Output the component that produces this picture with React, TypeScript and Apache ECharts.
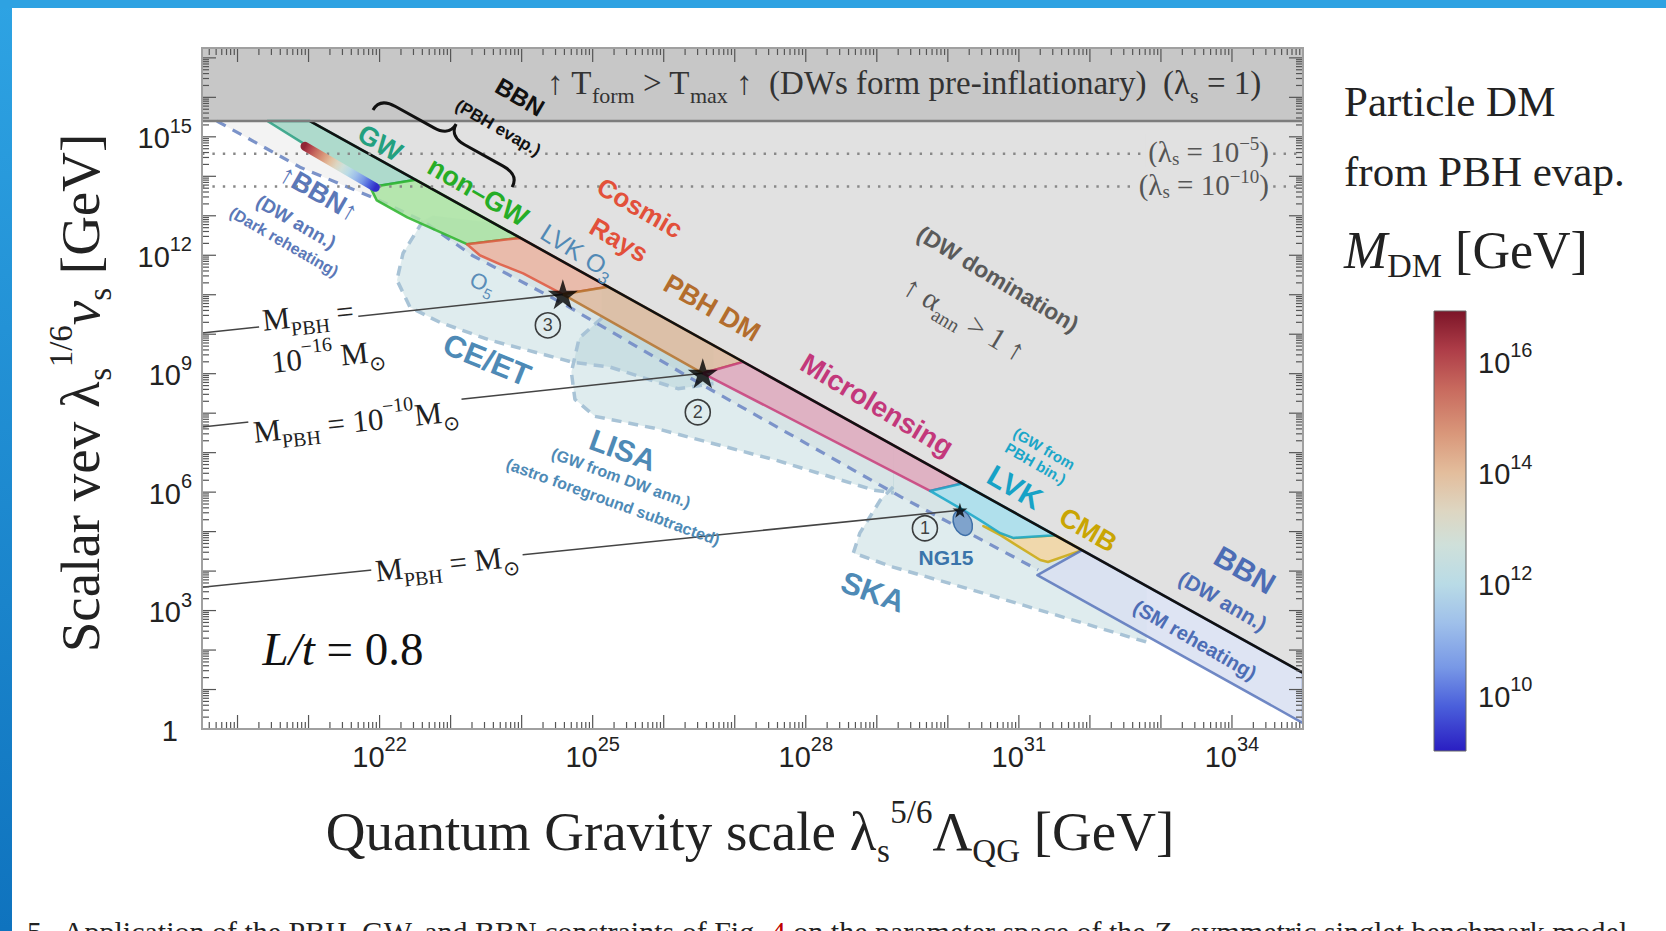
import React, { useEffect, useRef } from "react";
import * as echarts from "echarts";

// ---------------- axes (log10 of GeV) ----------------
const X_RANGE = [19.5, 35];
const Y_RANGE = [0, 17.25];
const X_LABEL_DECADES = [22, 25, 28, 31, 34];
const Y_LABEL_DECADES = [0, 3, 6, 9, 12, 15];
const X_TICK_DECADES = [19, 20, 21, 22, 23, 24, 25, 26, 27, 28, 29, 30, 31, 32, 33, 34, 35];
const Y_TICK_DECADES = [0, 1, 2, 3, 4, 5, 6, 7, 8, 9, 10, 11, 12, 13, 14, 15, 16, 17];
const MINOR_MULTIPLIERS = [2, 3, 4, 5, 6, 7, 8, 9];

// ---------------- boundaries (log10 coordinates) ----------------
const TFORM_BOUNDARY = 15.4; // T_form > T_max (lambda_s = 1)
const LAMBDA_LINES = [14.57, 13.74]; // lambda_s = 1e-5, 1e-10
const DW_LINE = [[21.02, 15.4], [35, 1.42]]; // DW domination boundary
const BBN_DARK_LINE = [
  [19.71, 15.4], [20.88, 14.23], [21.96, 13.42], [22.62, 12.86], [23.3, 12.0],
  [24.58, 10.78], [26.55, 8.71], [29.34, 5.88], [31.27, 4.03],
];
const EXCLUSION_CLOSURE = [[32.39, 4.03], [21.02, 15.4]];

// GW sensitivity regions: dashed outline + closure along the DW line
const CE_ET_OUTLINE = [
  [22.61, 12.87], [22.33, 12.05], [22.245, 11.37], [22.43, 10.68], [22.85, 10.3],
  [23.555, 9.85], [24.72, 9.29], [25.24, 9.17], [26.2, 8.62], [26.7, 8.75],
];
const CE_ET_CLOSURE = [[26.7, 9.72], [23.6, 12.82], [22.75, 13.0]];
const LISA_OUTLINE = [
  [25.13, 10.41], [24.81, 9.9], [24.7, 9.04], [24.75, 8.35], [25.03, 7.92],
  [25.92, 7.6], [27.58, 6.81], [28.96, 6.05], [29.24, 5.98],
];
const LISA_CLOSURE = [[29.24, 7.18], [25.13, 11.29]];
const SKA_OUTLINE = [
  [29.23, 6.13], [29.05, 5.8], [28.76, 4.96], [28.67, 4.46], [29.23, 4.1],
  [30.35, 3.52], [32.8, 2.2],
];
const SKA_CLOSURE = [[32.8, 3.62], [29.23, 7.19]];

// constraint strips below the DW line
const GW_STRIP = [[20.42, 15.4], [21.02, 15.4], [22.51, 13.91], [21.87, 13.72], [20.92, 14.84]];
const NON_GW_STRIP = [[21.87, 13.72], [22.51, 13.91], [23.98, 12.44], [23.23, 12.28], [22.39, 12.96], [21.96, 13.39]];
const COSMIC_RAY_STRIP = [[23.23, 12.28], [23.98, 12.44], [25.22, 11.2], [24.58, 11.01], [24.02, 11.54], [23.7, 11.77], [23.41, 12.0]];
const PBH_DM_STRIP = [[24.58, 11.01], [25.22, 11.2], [27.12, 9.3], [26.55, 9.01]];
const MICROLENSING_STRIP = [[26.55, 9.01], [27.12, 9.3], [30.2, 6.22], [29.75, 6.03]];
const LVK_STRIP = [[29.75, 6.03], [30.2, 6.22], [31.51, 4.91], [30.92, 4.84], [30.74, 4.96], [30.45, 5.29], [30.27, 5.49]];
const CMB_STRIP = [[30.5, 5.14], [30.74, 4.91], [31.3, 4.28], [31.41, 4.23], [31.89, 4.53], [31.51, 4.91], [30.92, 4.84]];
const BBN_SM_STRIP = [[31.26, 3.9], [31.89, 4.53], [35, 1.42], [35, 0.15]];

// benchmark points and PBH mass lines
const STARS = [[24.58, 11.01], [26.55, 9.01], [30.17, 5.54]];
const STAR_NAMES = ["3", "2", "1"];
const MPBH_LINE_STARTS = [[19.5, 10.03], [19.5, 7.65], [19.5, 3.59]];
const NG15_CENTER = [30.21, 5.22];

// particle DM from PBH evaporation
const DM_LINE = [[20.95, 14.76], [21.94, 13.72]];
const DM_LINE_MASS = [16.6, 9.2];

// colour bar (log10 M_DM / GeV)
const CBAR_RANGE = [9, 16.9];
const CBAR_LABELS = [10, 12, 14, 16];
const CBAR_TICKS = [9.5, 10, 10.5, 11, 11.5, 12, 12.5, 13, 13.5, 14, 14.5, 15, 15.5, 16, 16.5];
const CMAP_VALUES = [9.0, 9.8, 10.5, 11.3, 12.0, 12.7, 13.3, 14.0, 14.7, 15.5, 16.2, 16.9];
const CMAP_COLORS = ["#2a1ec2", "#4a5fdb", "#7898e6", "#9fc0ea", "#b9dbe6", "#cfe0da", "#ddd6c2", "#e3bd9c", "#d9977a", "#c86a5e", "#ae3d48", "#7c1528"];

// ---------------- styling ----------------
const SANS = "'Liberation Sans', Arial, Helvetica, sans-serif";
const SERIF = "'Liberation Serif', 'Times New Roman', serif";
const STAR_PATH = "path://M50,0 L61.2,34.5 L97.6,34.5 L68.2,55.9 L79.4,90.5 L50,69.1 L20.6,90.5 L31.8,55.9 L2.4,34.5 L38.8,34.5 Z";
const BRACE_PATH = "M0,0 C0,-9 6,-14 18,-14 L62,-14 C72,-14 79.5,-18 79.5,-28 C79.5,-18 87,-14 97,-14 L141,-14 C153,-14 159,-9 159,0";

try {
  echarts.graphic.registerShape("brace", echarts.graphic.extendPath(BRACE_PATH, {}));
} catch (e) {}

function hexToRgb(h: string) {
  const n = parseInt(h.slice(1), 16);
  return [(n >> 16) & 255, (n >> 8) & 255, n & 255];
}
function cmapColor(v: number) {
  if (v <= CMAP_VALUES[0]) return CMAP_COLORS[0];
  for (let i = 0; i < CMAP_VALUES.length - 1; i++) {
    const a = CMAP_VALUES[i], b = CMAP_VALUES[i + 1];
    if (v <= b) {
      const t = (v - a) / (b - a);
      const c0 = hexToRgb(CMAP_COLORS[i]), c1 = hexToRgb(CMAP_COLORS[i + 1]);
      const c = c0.map((x, k) => Math.round(x + (c1[k] - x) * t));
      return `rgb(${c[0]},${c[1]},${c[2]})`;
    }
  }
  return CMAP_COLORS[CMAP_COLORS.length - 1];
}

function rich(size: number, family: string, color: string, weight = "normal", padF = [0.22, 0.2], smallF = 0.66) {
  const padT = Math.round(size * padF[0]), padB = Math.round(size * padF[1]);
  const small = Math.round(size * smallF);
  const base = { fontSize: size, fontFamily: family, fontWeight: weight, fill: color, color, padding: [padT, 0, padB, 0] };
  const sub = { fontSize: small, fontFamily: family, fontWeight: weight, fill: color, color, verticalAlign: "bottom" };
  const sup = { fontSize: small, fontFamily: family, fontWeight: weight, fill: color, color, verticalAlign: "top" };
  return {
    n: base,
    i: { ...base, fontStyle: "italic" },
    r: { ...base, fill: "#c00000", color: "#c00000" },
    sup,
    sub,
    sb: { ...sub, width: Math.round(small * 0.42) },
  };
}

const deg = (d: number) => (-d * Math.PI) / 180;

function txt(text: string, x: number, y: number, size: number, color: string, rot = 0, o: any = {}) {
  const family = o.family || SANS;
  const weight = o.weight || "bold";
  const style: any = {
    text,
    x: 0,
    y: 0,
    fill: color,
    fontSize: size,
    fontFamily: family,
    fontWeight: weight,
    fontStyle: o.italic ? "italic" : "normal",
    align: o.align || "center",
    verticalAlign: o.valign || "middle",
  };
  if (o.rich) style.rich = rich(size, family, color, weight, o.padF, o.smallF);
  if (o.bg) {
    style.backgroundColor = o.bg;
    style.padding = o.pad || [0, 4];
  }
  if (o.lineHeight) style.lineHeight = o.lineHeight;
  return { type: "text", x, y, rotation: deg(rot), z: 100, silent: true, style };
}

function polySeries(id: string, poly: number[][], style: any, z: number) {
  return {
    type: "custom",
    id,
    coordinateSystem: "cartesian2d",
    xAxisIndex: 0,
    yAxisIndex: 0,
    z,
    silent: true,
    clip: true,
    data: [poly[0]],
    renderItem: (_p: any, api: any) => ({
      type: "polygon",
      shape: { points: poly.map((p) => api.coord(p)) },
      style: { ...style },
    }),
  };
}

function lineSeries(id: string, data: number[][], lineStyle: any, z: number) {
  return {
    type: "line",
    id,
    data,
    z,
    xAxisIndex: 0,
    yAxisIndex: 0,
    symbol: "none",
    silent: true,
    clip: true,
    lineStyle,
  };
}

function buildOption() {
  const GW_FILL = { fill: "rgba(160,200,206,0.34)" };
  const GW_DASH = { color: "#a8c3d6", width: 3.5, type: [10, 7] };
  const strip = (fill: string, stroke: string) => ({ fill, stroke, lineWidth: 2.5, opacity: 0.86, lineJoin: "round" });

  const band = [[X_RANGE[0], TFORM_BOUNDARY], [X_RANGE[1], TFORM_BOUNDARY], [X_RANGE[1], Y_RANGE[1]], [X_RANGE[0], Y_RANGE[1]]];
  const dwRegion = [DW_LINE[0], [X_RANGE[1], TFORM_BOUNDARY], DW_LINE[1]];

  // DM gradient stops
  const [m0, m1] = DM_LINE_MASS;
  const dmStops: any[] = [{ offset: 0, color: cmapColor(m0) }];
  CMAP_VALUES.forEach((v) => {
    if (v < m0 && v > m1) dmStops.push({ offset: (m0 - v) / (m0 - m1), color: cmapColor(v) });
  });
  dmStops.push({ offset: 1, color: cmapColor(m1) });
  dmStops.sort((a, b) => a.offset - b.offset);

  const cbarStops = CMAP_VALUES.map((v, i) => ({
    offset: (v - CBAR_RANGE[0]) / (CBAR_RANGE[1] - CBAR_RANGE[0]),
    color: CMAP_COLORS[i],
  }));

  const axisRich = {
    b: { fontSize: 29, fontFamily: SANS, color: "#222", padding: [8, 0, 5, 0] },
    one: { fontSize: 29, fontFamily: SANS, color: "#222", padding: [8, 14, 5, 0] },
    s: { fontSize: 20, fontFamily: SANS, color: "#222", verticalAlign: "top" },
  };

  const circleOffsets = [[-15, 31], [-5, 39], [-35, 18]];

  const series: any[] = [
    polySeries("band", band, { fill: "#c7c7c7" }, 1),
    polySeries("dwRegion", dwRegion, { fill: "#e1e1e1" }, 1),
    polySeries("bbnExcl", [...BBN_DARK_LINE, ...EXCLUSION_CLOSURE], { fill: "#f3f3f3" }, 1),
    polySeries("ceet", [...CE_ET_OUTLINE, ...CE_ET_CLOSURE], GW_FILL, 2),
    polySeries("lisa", [...LISA_OUTLINE, ...LISA_CLOSURE], GW_FILL, 2),
    polySeries("ska", [...SKA_OUTLINE, ...SKA_CLOSURE], GW_FILL, 2),
    lineSeries("ceetLine", CE_ET_OUTLINE, GW_DASH, 3),
    lineSeries("lisaLine", LISA_OUTLINE, GW_DASH, 3),
    lineSeries("skaLine", SKA_OUTLINE, GW_DASH, 3),
    lineSeries("bbnDark", BBN_DARK_LINE, { color: "#7b93c9", width: 3.2, type: [10, 8] }, 4),
    polySeries("gw", GW_STRIP, strip("#a2d5c5", "#2c9f82"), 5),
    polySeries("nongw", NON_GW_STRIP, strip("#aae3a2", "#2db52d"), 5),
    polySeries("cr", COSMIC_RAY_STRIP, strip("#ebb4a1", "#e05840"), 5),
    polySeries("pbhdm", PBH_DM_STRIP, strip("#e0bc9f", "#b6732e"), 5),
    polySeries("micro", MICROLENSING_STRIP, strip("#dfaabd", "#c83f7c"), 5),
    polySeries("cmb", CMB_STRIP, strip("#f3d6a2", "#cba90f"), 5),
    polySeries("lvk", LVK_STRIP, strip("#a9e0ec", "#17a7c8"), 5),
    polySeries("bbnsm", BBN_SM_STRIP, strip("#d9e0f1", "#5a76bc"), 5),
    lineSeries("dw", DW_LINE, { color: "#111", width: 2.6 }, 6),
    lineSeries("bandEdge", [[X_RANGE[0], TFORM_BOUNDARY], [X_RANGE[1], TFORM_BOUNDARY]], { color: "#7d7d7d", width: 2.5 }, 7),
    ...LAMBDA_LINES.map((y, i) =>
      lineSeries("lam" + i, [[X_RANGE[0], y], [X_RANGE[1], y]], { color: "#888", width: 2.4, type: [2.4, 8] }, 7)
    ),
    ...MPBH_LINE_STARTS.map((p, i) => lineSeries("mpbh" + i, [p, STARS[i]], { color: "#444", width: 1.6 }, 8)),
    {
      type: "custom",
      id: "ng15",
      coordinateSystem: "cartesian2d",
      z: 9,
      silent: true,
      data: [NG15_CENTER],
      renderItem: (_p: any, api: any) => {
        const c = api.coord(NG15_CENTER);
        return {
          type: "ellipse",
          x: c[0],
          y: c[1],
          rotation: 0.4,
          shape: { cx: 0, cy: 0, rx: 9, ry: 13 },
          style: { fill: "#7fa3cc", stroke: "#3f70a8", lineWidth: 1.5 },
        };
      },
    },
    {
      type: "custom",
      id: "dmline",
      coordinateSystem: "cartesian2d",
      z: 9,
      silent: true,
      data: [DM_LINE[0]],
      renderItem: (_p: any, api: any) => {
        const a = api.coord(DM_LINE[0]);
        const b = api.coord(DM_LINE[1]);
        return {
          type: "line",
          shape: { x1: a[0], y1: a[1], x2: b[0], y2: b[1] },
          style: {
            stroke: new echarts.graphic.LinearGradient(a[0], a[1], b[0], b[1], dmStops, true),
            lineWidth: 9,
            lineCap: "round",
          },
        };
      },
    },
    {
      type: "scatter",
      id: "stars",
      z: 12,
      silent: true,
      symbol: STAR_PATH,
      data: STARS.map((p, i) => ({ value: p, symbolSize: i < 2 ? 30 : 15 })),
      itemStyle: { color: "#000" },
    },
    {
      type: "scatter",
      id: "circles",
      z: 12,
      silent: true,
      symbol: "circle",
      symbolSize: 25,
      data: STARS.map((p, i) => ({ value: p, name: STAR_NAMES[i], symbolOffset: circleOffsets[i] })),
      itemStyle: { color: "rgba(255,255,255,0)", borderColor: "#111", borderWidth: 1.6 },
      label: { show: true, position: "inside", formatter: "{b}", fontSize: 18, color: "#111", fontFamily: SANS },
    },
    {
      type: "custom",
      id: "ticks",
      coordinateSystem: "cartesian2d",
      z: 20,
      silent: true,
      clip: false,
      data: [[X_RANGE[0], Y_RANGE[0]]],
      renderItem: (_p: any, api: any) => {
        const lb = api.coord([X_RANGE[0], Y_RANGE[0]]);
        const rt = api.coord([X_RANGE[1], Y_RANGE[1]]);
        const left = lb[0], bottom = lb[1], right = rt[0], top = rt[1];
        const ch: any[] = [];
        const st = { stroke: "#555", lineWidth: 1.2 };
        const ms = [1, ...MINOR_MULTIPLIERS];
        X_TICK_DECADES.forEach((d) =>
          ms.forEach((m) => {
            const v = d + Math.log10(m);
            if (v < X_RANGE[0] - 1e-9 || v > X_RANGE[1] + 1e-9) return;
            const px = api.coord([v, Y_RANGE[0]])[0];
            const len = m === 1 ? 14 : 7;
            ch.push({ type: "line", shape: { x1: px, y1: bottom, x2: px, y2: bottom - len }, style: st });
            ch.push({ type: "line", shape: { x1: px, y1: top, x2: px, y2: top + len }, style: st });
          })
        );
        Y_TICK_DECADES.forEach((d) =>
          ms.forEach((m) => {
            const v = d + Math.log10(m);
            if (v < Y_RANGE[0] - 1e-9 || v > Y_RANGE[1] + 1e-9) return;
            const py = api.coord([X_RANGE[0], v])[1];
            const len = m === 1 ? 14 : 7;
            ch.push({ type: "line", shape: { x1: left, y1: py, x2: left + len, y2: py }, style: st });
            ch.push({ type: "line", shape: { x1: right, y1: py, x2: right - len, y2: py }, style: st });
          })
        );
        ch.push({
          type: "rect",
          shape: { x: left, y: top, width: right - left, height: bottom - top },
          style: { fill: "none", stroke: "#a0a0a0", lineWidth: 2 },
        });
        return { type: "group", children: ch };
      },
    },
    {
      type: "custom",
      id: "cbar",
      coordinateSystem: "cartesian2d",
      xAxisIndex: 1,
      yAxisIndex: 1,
      silent: true,
      data: [[0, CBAR_RANGE[0]]],
      renderItem: (_p: any, api: any) => {
        const a = api.coord([0, CBAR_RANGE[0]]);
        const b = api.coord([1, CBAR_RANGE[1]]);
        return {
          type: "rect",
          shape: { x: a[0], y: b[1], width: b[0] - a[0], height: a[1] - b[1] },
          style: {
            fill: new echarts.graphic.LinearGradient(0, 1, 0, 0, cbarStops),
            stroke: "#666",
            lineWidth: 1,
          },
        };
      },
    },
  ];

  const serifBlack = "#222";
  const SER = { family: SERIF, weight: "normal", rich: true };
  const graphics: any[] = [
    // slide frame
    {
      type: "rect",
      z: 0,
      shape: { x: 0, y: 0, width: 12, height: 931 },
      style: { fill: new echarts.graphic.LinearGradient(0, 0, 0, 1, [{ offset: 0, color: "#2ea3e3" }, { offset: 1, color: "#0f73be" }]) },
    },
    { type: "rect", z: 0, shape: { x: 0, y: 0, width: 1666, height: 8 }, style: { fill: "#2ea2e2" } },

    // band text and dotted-line labels
    txt("{n|↑ T}{sub|form}{n| > T}{sub|max}{n| ↑  (DWs form pre-inflationary)  (λ}{sub|s}{n| = 1)}", 547, 83, 33, "#333", 0, { ...SER, align: "left" }),
    txt("{n|(λ}{sub|s}{n| = 10}{sup|−5}{n|)}", 1272, 151, 29, "#555", 0, { ...SER, align: "right", bg: "#e1e1e1", pad: [0, 3], padF: [0.1, 0.06] }),
    txt("{n|(λ}{sub|s}{n| = 10}{sup|−10}{n|)}", 1272, 184, 29, "#555", 0, { ...SER, align: "right", bg: "#e1e1e1", pad: [0, 3], padF: [0.1, 0.06] }),

    // BBN (PBH evap.) with brace
    txt("BBN", 520, 97, 24, "#111", 30),
    txt("(PBH evap.)", 498, 128, 17, "#111", 30),
    { type: "brace", x: 373, y: 110, rotation: deg(29), z: 100, silent: true, style: { fill: "none", stroke: "#111", lineWidth: 3 } },

    // strip labels
    txt("GW", 380, 143, 27, "#23a07f", 30),
    txt("non–GW", 478, 192, 27, "#26ad26", 30),
    txt("Cosmic", 640, 208, 26, "#e2503a", 30),
    txt("Rays", 619, 240, 26, "#e2503a", 30),
    txt("{n|LVK O}{sub|3}", 578, 251, 25, "#5189b5", 32, { rich: true, weight: "normal" }),
    txt("PBH DM", 712, 308, 27, "#b36d2d", 30),
    txt("Microlensing", 877, 405, 28, "#c3387b", 31),
    txt("(GW from\nPBH bin.)", 1040, 456, 15, "#1ba6c8", 30, { lineHeight: 17 }),
    txt("LVK", 1015, 487, 30, "#17a2c6", 30),
    txt("CMB", 1088, 530, 27, "#c9a503", 30),
    txt("BBN", 1245, 570, 30, "#4d6db5", 30),
    txt("(DW ann.)", 1223, 601, 21, "#4d6db5", 30),
    txt("(SM reheating)", 1195, 640, 20, "#4d6db5", 30),
    txt("(DW domination)", 998, 279, 23, "#5a5a5a", 31),
    txt("{n|↑ α}{sub|ann}{n| > 1 ↑}", 965, 318, 30, "#555", 31, SER),
    txt("↑BBN↑", 319, 193, 27, "#5b78b8", 30),
    txt("(DW ann.)", 296, 222, 19, "#5b78b8", 30),
    txt("(Dark reheating)", 284, 242, 16, "#5b78b8", 30),

    // GW detector labels
    txt("{n|O}{sub|5}", 483, 283, 22, "#5b8db8", 25, { rich: true, weight: "normal" }),
    txt("CE/ET", 487, 360, 31, "#4e8ab6", 22),
    txt("LISA", 623, 450, 30, "#4e8ab6", 20),
    txt("(GW from DW ann.)", 621, 478, 16, "#4e8ab6", 20),
    txt("(astro foreground subtracted)", 613, 502, 16, "#4e8ab6", 20),
    txt("SKA", 873, 592, 31, "#4e8ab6", 20),
    txt("NG15", 946, 557, 21, "#3b74aa", 0),

    // PBH mass labels
    txt("{n|M}{sub|PBH}{n| =}", 308, 315, 31, serifBlack, -6, { ...SER, bg: "#fff" }),
    txt("{n|10}{sup|−16}{n| M}{sub|⊙}", 328, 356, 31, serifBlack, -6, SER),
    txt("{n|M}{sub|PBH}{n| = 10}{sup|−10}{n|M}{sub|⊙}", 356, 421, 31, serifBlack, -6, { ...SER, bg: "#fff" }),
    txt("{n|M}{sub|PBH}{n| = M}{sub|⊙}", 447, 563, 31, serifBlack, -6, { ...SER, bg: "#fff" }),
    txt("{i|L/t}{n| = 0.8}", 343, 648, 47, "#111", 0, SER),

    // axis titles
    txt("{n|Quantum Gravity scale λ}{sb|s}{sup|5/6}{n|Λ}{sub|QG}{n| [GeV]}", 750, 831, 55, "#222", 0, { ...SER, padF: [0.16, 0.14], smallF: 0.6 }),
    txt("{n|Scalar vev λ}{sb|s}{sup|1/6}{i|v}{sub|s}{n| [GeV]}", 80, 393, 55, "#222", -90, { ...SER, padF: [0.16, 0.14], smallF: 0.6 }),

    // colour bar title
    txt("Particle DM", 1344, 101, 43, "#222", 0, { family: SERIF, weight: "normal", align: "left" }),
    txt("from PBH evap.", 1344, 171, 43, "#222", 0, { family: SERIF, weight: "normal", align: "left" }),
    txt("{i|M}{sub|DM}{n| [GeV]}", 1344, 250, 52, "#222", 0, { ...SER, align: "left", padF: [0.12, 0.12] }),

    // caption (cut by the page edge)
    txt("{n|5.  Application of the PBH, GW, and BBN constraints of Fig. }{r|4}{n| on the parameter space of the }{i|Z}{sub|2}{n|-symmetric singlet benchmark model}", 27, 909, 30, "#222", 0, { ...SER, align: "left", valign: "top" }),
  ];

  return {
    animation: false,
    backgroundColor: "#fff",
    grid: [
      { left: 202, top: 48, width: 1101, height: 681, show: false },
      { left: 1434, top: 311, width: 32, height: 440, show: false },
    ],
    xAxis: [
      {
        type: "value",
        gridIndex: 0,
        min: X_RANGE[0],
        max: X_RANGE[1],
        axisLine: { show: false },
        axisTick: { show: false },
        splitLine: { show: false },
        axisLabel: {
          customValues: X_LABEL_DECADES,
          margin: 5,
          formatter: (v: number) => `{b|10}{s|${Math.round(v)}}`,
          rich: axisRich,
        },
      },
      { type: "value", gridIndex: 1, min: 0, max: 1, show: false },
    ],
    yAxis: [
      {
        type: "value",
        gridIndex: 0,
        min: Y_RANGE[0],
        max: Y_RANGE[1],
        axisLine: { show: false },
        axisTick: { show: false },
        splitLine: { show: false },
        axisLabel: {
          customValues: Y_LABEL_DECADES,
          margin: 10,
          formatter: (v: number) => (Math.round(v) === 0 ? "{one|1}" : `{b|10}{s|${Math.round(v)}}`),
          rich: axisRich,
        },
      },
      {
        type: "value",
        gridIndex: 1,
        min: CBAR_RANGE[0],
        max: CBAR_RANGE[1],
        position: "right",
        axisLine: { show: false },
        splitLine: { show: false },
        axisTick: { show: true, customValues: CBAR_TICKS, length: 7, inside: false, lineStyle: { color: "#555", width: 1.2 } },
        axisLabel: {
          customValues: CBAR_LABELS,
          margin: 12,
          formatter: (v: number) => `{b|10}{s|${Math.round(v)}}`,
          rich: axisRich,
        },
      },
    ],
    series,
    graphic: { elements: graphics },
  };
}

export default function App() {
  const ref = useRef<HTMLDivElement>(null);
  useEffect(() => {
    if (!ref.current) return;
    const chart = echarts.init(ref.current, null, { renderer: "svg" });
    chart.setOption(buildOption() as any);
    return () => chart.dispose();
  }, []);
  return (
    <div
      ref={ref}
      style={{ position: "fixed", left: 0, top: 0, width: 1666, height: 931, background: "#fff" }}
    />
  );
}
